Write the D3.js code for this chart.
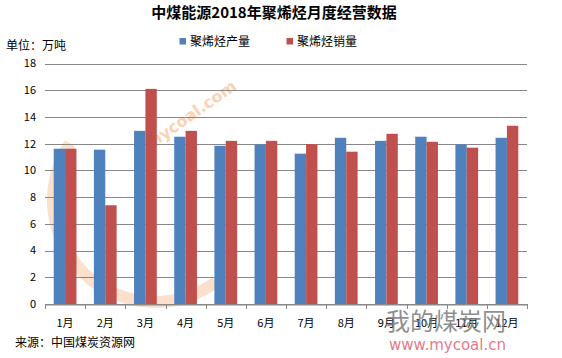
<!DOCTYPE html>
<html><head><meta charset="utf-8">
<script src="https://cdn.jsdelivr.net/npm/d3@7"></script>
<style>body{margin:0;background:#fff;}svg{display:block;}</style>
</head><body>
<svg id="c" width="562" height="358"></svg>
<script>
const categories = ["1月","2月","3月","4月","5月","6月","7月","8月","9月","10月","11月","12月"];
const production = [11.62, 11.55, 12.96, 12.52, 11.84, 11.94, 11.25, 12.44, 12.21, 12.52, 11.94, 12.44];
const sales = [11.62, 7.39, 16.1, 12.96, 12.21, 12.21, 11.97, 11.4, 12.74, 12.14, 11.7, 13.34];
const seriesNames = ["聚烯烃产量","聚烯烃销量"];
const yTicks = [0,2,4,6,8,10,12,14,16,18];
const colors = ["#4F81BD","#C0504D"];

const svg = d3.select("#c");
const font = "'Noto Sans CJK SC', 'Noto Sans', sans-serif";
const L = 45, R = 527, T = 63.5, B = 304;

// watermarks (light)
const wm = svg.append("g");
wm.append("path")
  .attr("d", d3.arc()({innerRadius: 96, outerRadius: 108, startAngle: 2.5, endAngle: 5.3}))
  .attr("transform","translate(155,200)")
  .attr("fill","#fce0cc");
wm.append("text").attr("transform","translate(150,150) rotate(-35)")
  .attr("font-family","'DejaVu Sans', sans-serif").attr("font-size",16).attr("font-weight","bold")
  .attr("fill","#fcd2b4").text("mycoal.com");

const x = d3.scaleBand().domain(categories).range([L, R]).paddingInner(0).paddingOuter(0);
const y = d3.scaleLinear().domain([0,18]).range([B, T]);

// gridlines
svg.append("g").selectAll("line").data(yTicks).join("line")
  .attr("x1", L).attr("x2", R)
  .attr("y1", d => Math.round(y(d)) + 0.5).attr("y2", d => Math.round(y(d)) + 0.5)
  .attr("stroke", "#888").attr("stroke-width", 1);

// y labels
svg.append("g").selectAll("text").data(yTicks).join("text")
  .attr("x", 36).attr("y", d => y(d)).attr("dy", "0.35em")
  .attr("text-anchor","end").attr("font-family", font).attr("font-size", 11)
  .attr("fill","#000").text(d => d);

const bw = x.bandwidth() * 0.283;
const sub = d3.scaleBand().domain([0,1]).range([0, bw*2]);
const data = [production, sales];
const g = svg.append("g");
data.forEach((arr, si) => {
  g.selectAll(".s"+si).data(arr).join("rect")
    .attr("x", (d,i) => x(categories[i]) + x.bandwidth()/2 - bw + sub(si))
    .attr("width", bw)
    .attr("y", d => y(d))
    .attr("height", d => y(0) - y(d))
    .attr("fill", colors[si]);
});

// bottom axis
const xa = svg.append("g").attr("transform", `translate(0,${Math.round(y(0))+0.5})`)
  .call(d3.axisBottom(x).tickSize(0).tickFormat(""));
xa.select(".domain").attr("stroke","#888");
const tickPos = d3.range(categories.length + 1).map(i => L + i * x.step());
svg.append("g").selectAll("line").data(tickPos).join("line")
  .attr("x1", d => Math.round(d)+0.5).attr("x2", d => Math.round(d)+0.5)
  .attr("y1", Math.round(y(0))).attr("y2", Math.round(y(0)) + 5)
  .attr("stroke","#888");
svg.append("g").selectAll("text").data(categories).join("text")
  .attr("x", d => x(d) + x.bandwidth()/2).attr("y", 327)
  .attr("text-anchor","middle").attr("font-family", font).attr("font-size", 11)
  .attr("fill","#000").text(d => d);

// title
svg.append("text").attr("x", 274).attr("y", 18).attr("text-anchor","middle")
  .attr("font-family", "'Noto Sans CJK SC', sans-serif").attr("font-weight","bold")
  .attr("font-size", 15).attr("fill","#000").text("中煤能源2018年聚烯烃月度经营数据");

// unit
svg.append("text").attr("x", 6).attr("y", 50).attr("font-family", font)
  .attr("font-size", 12).attr("fill","#000").text("单位：万吨");

// legend
const lg = svg.append("g");
const legX = [179.5, 286.5];
seriesNames.forEach((n, i) => {
  lg.append("rect").attr("x", legX[i]).attr("y", 38).attr("width", 6.5).attr("height", 6.5).attr("fill", colors[i]);
  lg.append("text").attr("x", legX[i] + 10.5).attr("y", 46).attr("font-family", font)
    .attr("font-size", 12).attr("fill","#000").text(n);
});

// source
svg.append("text").attr("x", 15).attr("y", 347).attr("font-family", font)
  .attr("font-size", 12).attr("fill","#000").text("来源：中国煤炭资源网");

// logo watermark
svg.append("text").attr("x", 386).attr("y", 330).attr("font-family", font)
  .attr("font-size", 24).attr("fill","#7a7a7a").attr("fill-opacity",0.85).text("我的煤炭网");
svg.append("text").attr("x", 389).attr("y", 350).attr("font-family", "'DejaVu Sans', sans-serif")
  .attr("font-size", 15).attr("fill","#e06070").attr("fill-opacity",0.85).text("www.mycoal.cn");
</script>
</body></html>
